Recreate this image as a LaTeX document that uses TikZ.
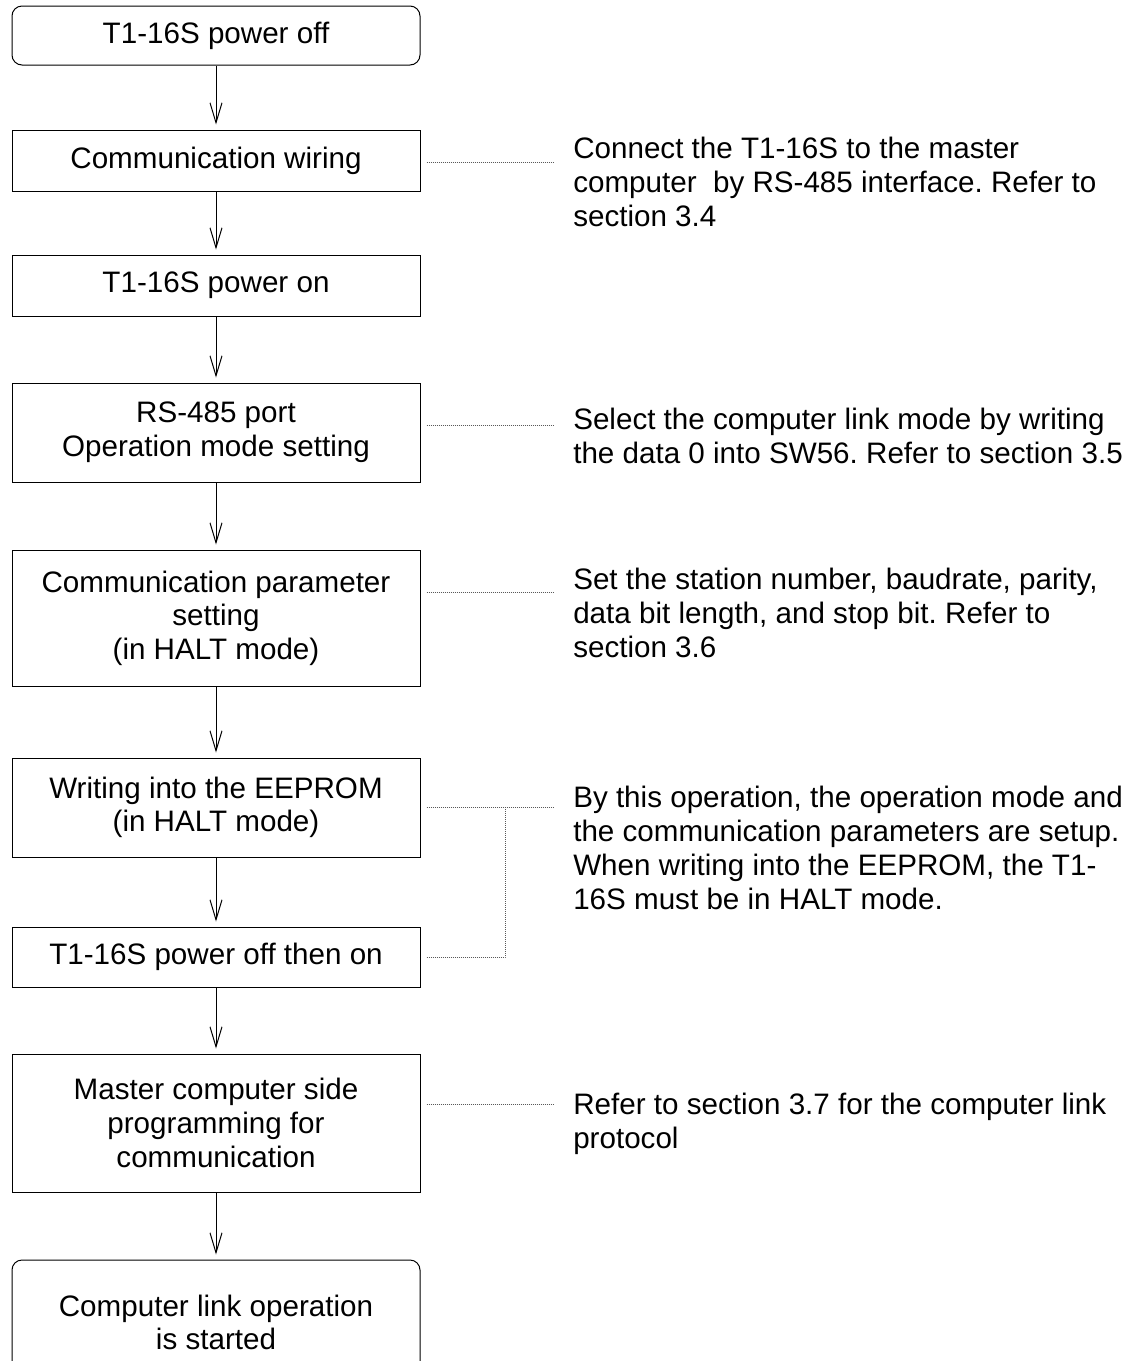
\documentclass[tikz,border=0pt]{standalone}
\usepackage{fontspec}
\setmainfont{Liberation Sans}
\usetikzlibrary{arrows.meta,calc}
\frenchspacing
\tikzset{
  box/.style={draw=black, line width=0.75pt, minimum width=306pt, minimum height=#1*0.75pt,
    inner sep=0pt, align=center, font=\fontsize{22.2}{25.2}\selectfont},
  rbox/.style={box=#1, rounded corners=7.5pt},
  arr/.style={draw=black, line width=0.75pt, -{Straight Barb[length=15pt,width=9pt,line width=0.75pt]}, shorten >=3.75pt},
  note/.style={anchor=base west, inner sep=0pt, font=\fontsize{22.2}{25.6}\selectfont},
  dotline/.style={draw=black!65, line width=0.75pt, dash pattern=on 0.75pt off 0.75pt}
}
\newcommand{\notetext}[1]{\parbox[t]{430pt}{\raggedright\frenchspacing #1}}
\begin{document}
\begin{tikzpicture}[x=0.75pt,y=-0.75pt]
\useasboundingbox (0,0) rectangle (1142,1361);
\clip (0,0) rectangle (1142,1361);
\fill[white] (0,0) rectangle (1142,1361);

\node[rbox=59]  (b1) at (216,35.5)  {T1-16S power off};
\node[box=61]   (b2) at (216,160.5) {Communication wiring};
\node[box=61]   (b3) at (216,285.5) {T1-16S power on};
\node[box=99]   (b4) at (216,432.5) {RS-485 port\\Operation mode setting};
\node[box=136]  (b5) at (216,618)   {Communication parameter\\setting\\(in HALT mode)};
\node[box=99]   (b6) at (216,807.5) {Writing into the EEPROM\\(in HALT mode)};
\node[box=60]   (b7) at (216,957)   {T1-16S power off then on};
\node[box=138]  (b8) at (216,1123)  {Master computer side\\programming for\\communication};
\node[rbox=125] (b9) at (216,1322.5) {Computer link operation\\is started};

\draw[arr] (b1.south) -- (b2.north);
\draw[arr] (b2.south) -- (b3.north);
\draw[arr] (b3.south) -- (b4.north);
\draw[arr] (b4.south) -- (b5.north);
\draw[arr] (b5.south) -- (b6.north);
\draw[arr] (b6.south) -- (b7.north);
\draw[arr] (b7.south) -- (b8.north);
\draw[arr] (b8.south) -- (b9.north);

\node[note] (t2) at (573,158) {\notetext{Connect the T1-16S to the master\\computer\ \ by RS-485 interface. Refer to\\section 3.4}};
\node[note] (t4) at (573,429) {\notetext{Select the computer link mode by writing\\the data 0 into SW56. Refer to section 3.5}};
\node[note] (t5) at (573,589) {\notetext{Set the station number, baudrate, parity,\\data bit length, and stop bit. Refer to\\section 3.6}};
\node[note] (t6) at (573,807) {\notetext{By this operation, the operation mode and\\the communication parameters are setup.\\When writing into the EEPROM, the T1-\\16S must be in HALT mode.}};
\node[note] (t8) at (573,1114) {\notetext{Refer to section 3.7 for the computer link\\protocol}};

\coordinate (d2) at (553,162);
\coordinate (d4) at (553,425);
\coordinate (d5) at (553,592);
\coordinate (d6) at (553,807);
\coordinate (d8) at (553,1104);
\coordinate (j7) at (505,957);

\draw[dotline] ($(b2.east |- d2)+(6,0)$) -- (d2);
\draw[dotline] ($(b4.east |- d4)+(6,0)$) -- (d4);
\draw[dotline] ($(b5.east |- d5)+(6,0)$) -- (d5);
\draw[dotline] ($(b6.east |- d6)+(6,0)$) -- (d6);
\draw[dotline] ($(b8.east |- d8)+(6,0)$) -- (d8);
\draw[dotline] ($(b7.east)+(6,0)$) -- (j7) -- (j7 |- d6);
\end{tikzpicture}
\end{document}
